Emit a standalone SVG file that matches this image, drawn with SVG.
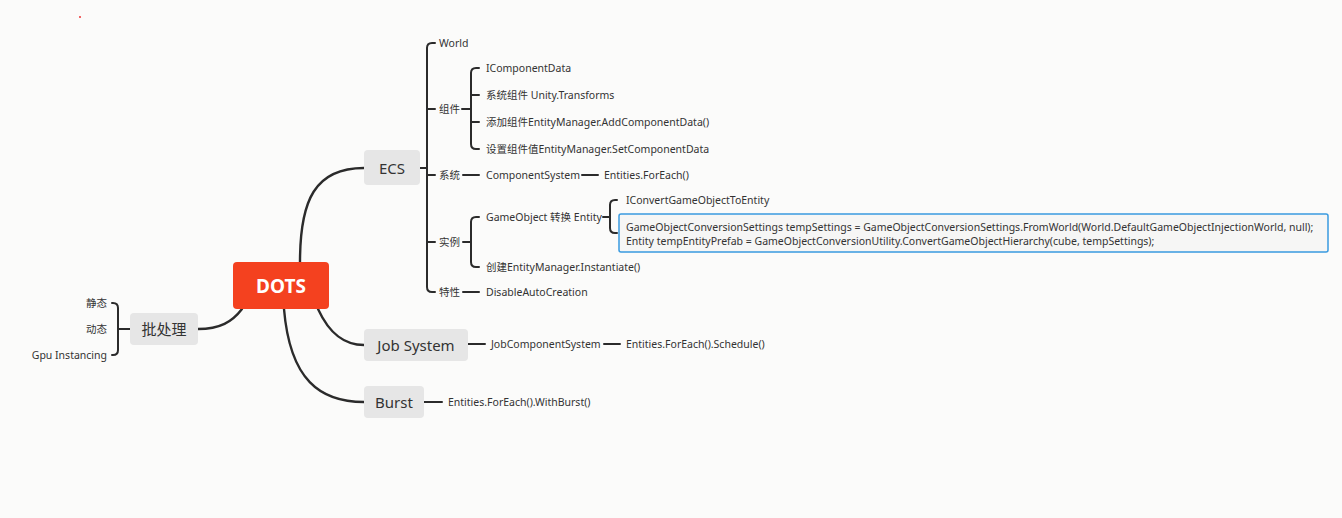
<svg xmlns="http://www.w3.org/2000/svg" width="1342" height="518" viewBox="0 0 1342 518">
<style>
text{font-family:"Noto Sans","Noto Sans CJK SC",sans-serif;fill:#333;dominant-baseline:central}
.leaf{font-size:10.5px}
.mid{font-size:15px}
.main{fill:#e6e6e6}
.lb{fill:#f3f3f1}
.c{fill:none;stroke:#2b2b2b;stroke-width:2.4;stroke-linecap:round}
.t{fill:none;stroke:#2b2b2b;stroke-width:2;stroke-linecap:round}
</style>
<rect width="1342" height="518" fill="#fbfbfa"/>
<circle cx="80" cy="17" r="1" fill="#e33"/>
<g id="connectors">
<path class="c" d="M300,262 C300,200 315,168 364,168"/>
<path class="c" d="M318,309 C330,335 345,345 364,345"/>
<path class="c" d="M284,309 C290,380 320,402 364,402"/>
<path class="c" d="M198,329 C220,329 232,322 242,309"/>
<path class="t" d="M420,168 H427 M435,43 H432 Q427,43 427,48 V287 Q427,292 432,292 H435 M427,109 H435 M427,175 H435 M427,242 H435"/>
<path class="t" d="M462,109 H471 M479,68 H476 Q471,68 471,73 V144 Q471,149 476,149 H479 M471,95 H479 M471,122 H479"/>
<path class="t" d="M463,175 H479 M582,175 H598"/>
<path class="t" d="M463,242 H471 M479,217 H476 Q471,217 471,222 V262 Q471,267 476,267 H479"/>
<path class="t" d="M603,217 H610 M617,200 H615 Q610,200 610,205 V228 Q610,233 615,233 H617"/>
<path class="t" d="M463,292 H479"/>
<path class="t" d="M468,344 H485 M604,344 H620"/>
<path class="t" d="M424,402 H442"/>
<path class="t" d="M130,329 H118 M112,303 H113 Q118,303 118,308 V350 Q118,355 113,355 H112"/>
</g>
<g id="dots"><rect x="233" y="262" width="96" height="47" rx="4" fill="#f4411f"/><text x="281" y="286" text-anchor="middle" style="font-size:19px;font-weight:bold;fill:#fff">DOTS</text></g>
<g id="ecs"><rect class="main" x="364" y="150" width="56" height="35" rx="4"/><text class="mid" x="392" y="168" text-anchor="middle">ECS</text></g>
<g id="job"><rect class="main" x="364" y="329" width="104" height="32" rx="4"/><text class="mid" x="416" y="345" text-anchor="middle">Job System</text></g>
<g id="burst"><rect class="main" x="364" y="386" width="60" height="32" rx="4"/><text class="mid" x="394" y="402" text-anchor="middle">Burst</text></g>
<g id="batch"><rect class="main" x="130" y="313" width="68" height="32" rx="4"/><text class="mid" x="164" y="329" text-anchor="middle">批处理</text></g>
<g id="static"><text class="leaf" x="107" y="303" text-anchor="end">静态</text></g>
<g id="dynamic"><text class="leaf" x="107" y="329" text-anchor="end">动态</text></g>
<g id="gpu"><text class="leaf" x="107" y="355" text-anchor="end">Gpu Instancing</text></g>
<g id="world"><text class="leaf" x="439" y="43">World</text></g>
<g id="zujian"><text class="leaf" x="439" y="109">组件</text></g>
<g id="xitong"><text class="leaf" x="439" y="175">系统</text></g>
<g id="shili"><text class="leaf" x="439" y="242">实例</text></g>
<g id="texing"><text class="leaf" x="439" y="292">特性</text></g>
<g id="icd"><text class="leaf" x="486" y="68">IComponentData</text></g>
<g id="trans"><text class="leaf" x="486" y="95">系统组件 Unity.Transforms</text></g>
<g id="add"><text class="leaf" x="486" y="122">添加组件EntityManager.AddComponentData()</text></g>
<g id="set"><text class="leaf" x="486" y="149">设置组件值EntityManager.SetComponentData</text></g>
<g id="cs"><text class="leaf" x="486" y="175">ComponentSystem</text></g>
<g id="fe"><text class="leaf" x="604" y="175">Entities.ForEach()</text></g>
<g id="goe"><text class="leaf" x="486" y="217">GameObject 转换 Entity</text></g>
<g id="inst"><text class="leaf" x="486" y="267">创建EntityManager.Instantiate()</text></g>
<g id="icg"><text class="leaf" x="626" y="200">IConvertGameObjectToEntity</text></g>
<g id="code"><rect x="619" y="214" width="709" height="38" rx="2" fill="#f6f6f5" stroke="#3a9be0" stroke-width="1.5"/>
<text class="leaf" x="626" y="227">GameObjectConversionSettings tempSettings = GameObjectConversionSettings.FromWorld(World.DefaultGameObjectInjectionWorld, null);</text>
<text class="leaf" x="626" y="241">Entity tempEntityPrefab = GameObjectConversionUtility.ConvertGameObjectHierarchy(cube, tempSettings);</text></g>
<g id="dac"><text class="leaf" x="486" y="292">DisableAutoCreation</text></g>
<g id="jcs"><text class="leaf" x="491" y="344">JobComponentSystem</text></g>
<g id="fes"><text class="leaf" x="626" y="344">Entities.ForEach().Schedule()</text></g>
<g id="few"><text class="leaf" x="448" y="402">Entities.ForEach().WithBurst()</text></g>
</svg>
